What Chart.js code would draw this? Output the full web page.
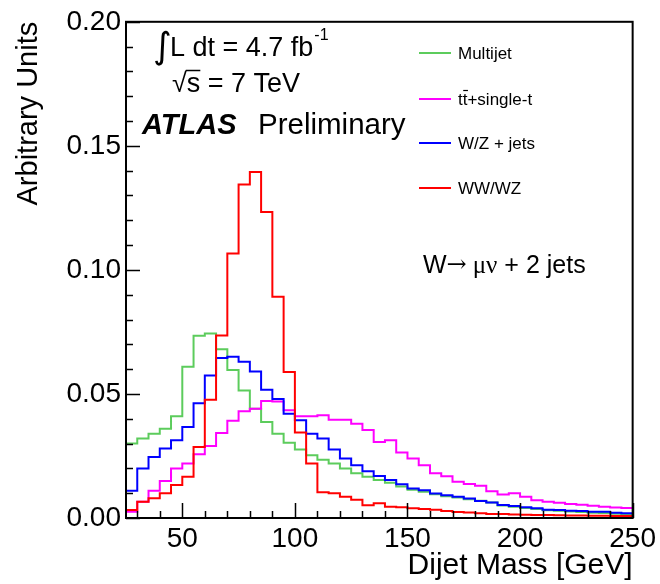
<!DOCTYPE html>
<html><head><meta charset="utf-8">
<script src="https://cdn.jsdelivr.net/npm/chart.js@4/dist/chart.umd.min.js"></script>
<style>html,body{margin:0;padding:0;background:#fff;}#wrap{width:660px;height:584px;position:relative;}</style>
</head><body><div id="wrap"><canvas id="c" width="660" height="584"></canvas></div>
<script>
// ---- data (bin low edges, 5 GeV bins) ----
const binLowEdges = [25,30,35,40,45,50,55,60,65,70,75,80,85,90,95,100,105,110,115,120,125,130,135,140,145,150,155,160,165,170,175,180,185,190,195,200,205,210,215,220,225,230,235,240,245];
const upperEdge = 250;
const seriesNames = ['Multijet', 'tt\u0304+single-t', 'W/Z + jets', 'WW/WZ'];
const multijet = [0.030,0.032,0.034,0.036,0.041,0.061,0.0735,0.0744,0.068,0.0597,0.0514,0.044,0.0387,0.034,0.0303,0.0276,0.0253,0.0235,0.022,0.020,0.018,0.0166,0.0153,0.0142,0.0127,0.0114,0.0106,0.0096,0.0088,0.0083,0.0076,0.0070,0.0062,0.0050,0.0045,0.0040,0.0036,0.0031,0.0029,0.0026,0.0024,0.0021,0.0020,0.0017,0.0015];
const ttbarSingleTop = [0.0025,0.0065,0.011,0.0149,0.020,0.022,0.0257,0.029,0.0343,0.0392,0.043,0.044,0.0472,0.047,0.0434,0.041,0.041,0.0414,0.0396,0.0396,0.038,0.0355,0.0306,0.0313,0.0264,0.024,0.0213,0.018,0.0168,0.0146,0.0137,0.0130,0.0108,0.0095,0.0100,0.0086,0.0072,0.0065,0.0061,0.0056,0.0053,0.0049,0.0045,0.0042,0.0040];
const wzJets = [0.011,0.020,0.0246,0.028,0.0313,0.0367,0.0463,0.0574,0.0645,0.065,0.063,0.059,0.0517,0.048,0.042,0.0394,0.034,0.032,0.0276,0.024,0.0213,0.0188,0.0169,0.0153,0.0136,0.0119,0.0112,0.0099,0.0092,0.0086,0.0079,0.0069,0.0062,0.0052,0.0048,0.0043,0.0039,0.0033,0.0032,0.0029,0.0028,0.0025,0.0025,0.0021,0.0019];
const wwWz = [0.0032,0.0065,0.008,0.010,0.0133,0.0166,0.0286,0.0477,0.0736,0.1066,0.1344,0.1395,0.1233,0.0892,0.0588,0.0345,0.022,0.0104,0.0100,0.0086,0.0074,0.0051,0.0059,0.0045,0.0043,0.0039,0.0036,0.0033,0.0028,0.0024,0.0022,0.0019,0.0016,0.0016,0.0014,0.0013,0.0012,0.0012,0.0011,0.0010,0.0010,0.0009,0.0009,0.0008,0.0008];
const xTickLabels = [50,100,150,200,250];
const yTickLabels = [0.00,0.05,0.10,0.15,0.20];
const seriesColors = ['#5ccc5c', '#ff00ff', '#0000ff', '#ff0000'];

// build histogram outline points: each bin gives (low,v),(high,v)
function histPoints(values){
  const pts = [];
  values.forEach((v,i)=>{
    const lo = binLowEdges[i];
    const hi = i+1 < binLowEdges.length ? binLowEdges[i+1] : upperEdge;
    pts.push({x:lo,y:v},{x:hi,y:v});
  });
  return pts;
}
const allSeries = [multijet, ttbarSingleTop, wzJets, wwWz];
const FONT = "'Liberation Sans', Arial, Helvetica, sans-serif";

const decor = {
  id:'decor',
  afterDatasetsDraw(chart){
    const ctx = chart.ctx, a = chart.chartArea;
    const xs = chart.scales.x, ys = chart.scales.y;
    ctx.save();
    ctx.strokeStyle = '#000'; ctx.lineWidth = 2;
    ctx.strokeRect(a.left, a.top, a.right-a.left, a.bottom-a.top);
    ctx.lineWidth = 1.5;
    ctx.beginPath();
    for (let k=0;k<=20;k++){
      const v = k*0.01, py = Math.round(ys.getPixelForValue(v))+0.5;
      const len = (k%5===0)?14:7;
      ctx.moveTo(a.left, py); ctx.lineTo(a.left+len, py);
    }
    for (let v=30; v<=250; v+=10){
      const px = Math.round(xs.getPixelForValue(v))+0.5;
      const len = (v%50===0)?15:7;
      ctx.moveTo(px, a.bottom); ctx.lineTo(px, a.bottom-len);
    }
    ctx.stroke();

    // annotations
    ctx.fillStyle = '#000';
    ctx.textBaseline = 'alphabetic';
    ctx.textAlign = 'left';
    ctx.font = "36px 'DejaVu Sans'";
    ctx.fillText('\u222B', 153, 58);
    ctx.font = '27px ' + FONT;
    ctx.fillText('L dt = 4.7 fb', 170, 56);
    let w = ctx.measureText('L dt = 4.7 fb').width;
    ctx.font = '16px ' + FONT;
    ctx.fillText('-1', 170 + w + 1, 40);

    ctx.font = '27px ' + FONT;
    ctx.fillText('\u221A', 172, 92);
    const sx = 172 + ctx.measureText('\u221A').width;
    ctx.fillText('s = 7 TeV', sx, 92);
    const sw = ctx.measureText('s').width;
    ctx.lineWidth = 1.5;
    ctx.beginPath(); ctx.moveTo(sx-1, 70.5); ctx.lineTo(sx+sw, 70.5); ctx.stroke();

    ctx.font = 'italic bold 29px ' + FONT;
    ctx.fillText('ATLAS', 142, 134);
    ctx.font = '29.5px ' + FONT;
    ctx.fillText('Preliminary', 258, 134);

    // legend
    const legY = [53, 99, 143, 188];
    [0,1,2,3].forEach((i,k)=>{
      ctx.strokeStyle = seriesColors[i]; ctx.lineWidth = 2;
      ctx.beginPath(); ctx.moveTo(419, legY[k]); ctx.lineTo(451, legY[k]); ctx.stroke();
      ctx.font = '17px ' + FONT;
      ctx.fillStyle = '#000';
      if (i===1){
        const tw = ctx.measureText('t').width;
        ctx.fillText('tt', 458, legY[k]+6);
        ctx.strokeStyle = '#000'; ctx.lineWidth = 1.2;
        ctx.beginPath(); ctx.moveTo(458+tw+0.5, legY[k]-8.5); ctx.lineTo(458+2*tw+0.5, legY[k]-8.5); ctx.stroke();
        ctx.fillText('+single-t', 458 + ctx.measureText('tt').width, legY[k]+6);
      } else {
        ctx.fillText(seriesNames[i], 458, legY[k]+6);
      }
    });

    // process label
    ctx.fillStyle = '#000';
    ctx.font = '25px ' + FONT;
    let x = 423;
    ctx.fillText('W', x, 273); x += ctx.measureText('W').width;
    ctx.font = "24px 'DejaVu Serif'";
    ctx.fillText('\u2192', x, 272); x += ctx.measureText('\u2192').width + 6;
    ctx.font = "25px 'Liberation Serif'";
    ctx.fillText('\u03BC\u03BD', x, 273); x += ctx.measureText('\u03BC\u03BD').width;
    ctx.font = '25px ' + FONT;
    ctx.fillText(' + 2 jets', x, 273);
    ctx.restore();
  }
};

new Chart(document.getElementById('c'), {
  type:'line',
  data:{
    datasets: allSeries.map((vals,i)=>({
      label: seriesNames[i],
      data: histPoints(vals),
      borderColor: seriesColors[i],
      borderWidth: 2,
      pointRadius: 0,
      fill: false,
      tension: 0,
      order: 4 - i
    }))
  },
  options:{
    responsive:false,
    animation:false,
    devicePixelRatio:1,
    layout:{padding:{top:20,right:26,left:0,bottom:0}},
    plugins:{legend:{display:false}, tooltip:{enabled:false}},
    scales:{
      x:{
        type:'linear', min:25, max:250,
        grid:{display:false, drawTicks:false, tickLength:0}, border:{display:false},
        afterBuildTicks(s){ s.ticks = xTickLabels.map(v=>({value:v})); },
        afterFit(s){ s.height = 66; },
        ticks:{ font:{family:FONT, size:28}, color:'#000', padding:4, maxRotation:0, autoSkip:false,
                callback:(v)=>String(v) },
        title:{ display:true, text:'Dijet Mass [GeV]', align:'end', color:'#000',
                font:{family:FONT, size:30}, padding:{top:0,bottom:0} }
      },
      y:{
        type:'linear', min:0, max:0.2,
        grid:{display:false, drawTicks:false, tickLength:0}, border:{display:false},
        afterBuildTicks(s){ s.ticks = yTickLabels.map(v=>({value:v})); },
        afterFit(s){ s.width = 126; },
        ticks:{ font:{family:FONT, size:28}, color:'#000', padding:5,
                callback:(v)=>Number(v).toFixed(2) },
        title:{ display:true, text:'Arbitrary Units', align:'end', color:'#000',
                font:{family:FONT, size:29}, padding:{top:12,bottom:0} }
      }
    }
  },
  plugins:[decor]
});
</script></body></html>
